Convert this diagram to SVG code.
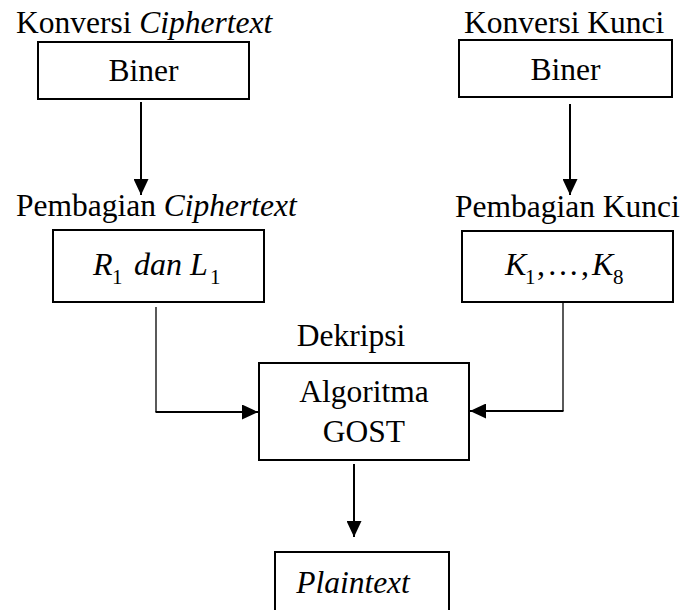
<svg xmlns="http://www.w3.org/2000/svg" width="683" height="610" viewBox="0 0 683 610">
  <style>
    .box { fill: none; stroke: #000; stroke-width: 2; }
    .lbl { font-family: "Liberation Serif", "DejaVu Serif", serif; font-size: 31.5px; fill: #000; }
    .it { font-style: italic; }
    .math { font-family: "Liberation Serif", "DejaVu Serif", serif; font-size: 32px; font-style: italic; fill: #000; }
    .sub { font-style: normal; font-size: 21px; }
    .up { font-style: normal; }
    .flow { fill: none; stroke: #000; stroke-width: 2; }
    .thin { fill: none; stroke: #000; stroke-width: 1.3; }
  </style>
  <defs>
    <marker id="arrow" markerUnits="userSpaceOnUse" markerWidth="16" markerHeight="15" refX="16" refY="7.5" orient="auto">
      <path d="M0,0 L16,7.5 L0,15 Z" fill="#000"/>
    </marker>
  </defs>
  <rect width="683" height="610" fill="#ffffff"/>

  <!-- ciphertext conversion -->
  <g id="biner-ciphertext">
    <text class="lbl" x="16" y="33">Konversi <tspan class="it">Ciphertext</tspan></text>
    <rect class="box" x="38" y="42" width="211" height="57"/>
    <text class="lbl" x="143.5" y="81" text-anchor="middle">Biner</text>
  </g>

  <!-- key conversion -->
  <g id="biner-kunci">
    <text class="lbl" x="464" y="33">Konversi Kunci</text>
    <rect class="box" x="459" y="40" width="213" height="57"/>
    <text class="lbl" x="565.5" y="80" text-anchor="middle">Biner</text>
  </g>

  <!-- ciphertext split -->
  <g id="pembagian-ciphertext">
    <text class="lbl" x="16" y="216">Pembagian <tspan class="it">Ciphertext</tspan></text>
    <rect class="box" x="53" y="230" width="211" height="72"/>
    <text class="math" y="275"><tspan x="93">R</tspan><tspan class="sub" x="112" dy="9">1</tspan><tspan x="134" dy="-9">dan</tspan><tspan x="190">L</tspan><tspan class="sub" x="210" dy="9">1</tspan></text>
  </g>

  <!-- key split -->
  <g id="pembagian-kunci">
    <text class="lbl" x="455" y="217">Pembagian Kunci</text>
    <rect class="box" x="462" y="231" width="211" height="71"/>
    <text class="math" y="275"><tspan x="505">K</tspan><tspan class="sub" x="525" dy="9">1</tspan><tspan class="up" x="537" dy="-9">,</tspan><tspan class="up" x="547">…</tspan><tspan class="up" x="581">,</tspan><tspan x="592">K</tspan><tspan class="sub" x="613" dy="9">8</tspan></text>
  </g>

  <!-- decryption -->
  <g id="dekripsi">
    <text class="lbl" x="351" y="346" text-anchor="middle">Dekripsi</text>
    <rect class="box" x="259" y="363" width="210" height="97"/>
    <text class="lbl" x="364" y="402" text-anchor="middle">Algoritma</text>
    <text class="lbl" x="364" y="442" text-anchor="middle">GOST</text>
  </g>

  <!-- output -->
  <g id="plaintext">
    <rect class="box" x="275" y="552" width="174" height="70"/>
    <text class="lbl it" x="353" y="593" text-anchor="middle">Plaintext</text>
  </g>

  <g id="connectors">
    <line class="flow" x1="141" y1="102" x2="141" y2="195" marker-end="url(#arrow)"/>
    <line class="flow" x1="570" y1="104" x2="570" y2="195" marker-end="url(#arrow)"/>
    <line class="thin" x1="156" y1="307" x2="156" y2="412"/>
    <line class="flow" x1="155.5" y1="412" x2="258" y2="412" marker-end="url(#arrow)"/>
    <line class="thin" x1="563" y1="303" x2="563" y2="411"/>
    <line class="flow" x1="563.5" y1="411" x2="470" y2="411" marker-end="url(#arrow)"/>
    <line class="flow" x1="354" y1="464" x2="354" y2="537" marker-end="url(#arrow)"/>
  </g>
</svg>
